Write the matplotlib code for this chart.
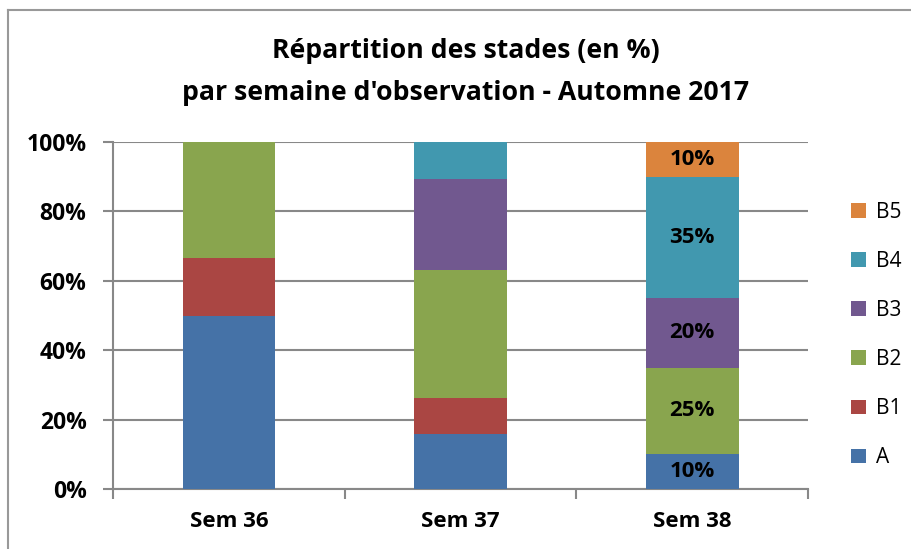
import matplotlib as mpl
mpl.use('Agg')
import numpy as np
import matplotlib.pyplot as plt
from matplotlib.lines import Line2D

# data (percent per stage, per week)
semaines = ['Sem 36', 'Sem 37', 'Sem 38']
stades = ['A', 'B1', 'B2', 'B3', 'B4', 'B5']
val_A  = [50.0, 15.8, 10.0]
val_B1 = [16.7, 10.5, 0.0]
val_B2 = [33.3, 36.8, 25.0]
val_B3 = [0.0, 26.3, 20.0]
val_B4 = [0.0, 10.5, 35.0]
val_B5 = [0.0, 0.0, 10.0]
couleurs = ['#4572A7', '#AA4643', '#89A54E', '#71588F', '#4198AF', '#DB843D']
etiquettes_sem38 = ['10%', '', '25%', '20%', '35%', '10%']

plt.rcParams['font.family'] = ['Open Sans', 'DejaVu Sans']

fig = plt.figure(figsize=(9.12, 5.49), dpi=100)
ax = fig.add_axes([113/912, 1-489/549, 695/912, 347/549])

x = np.arange(len(semaines))
series = [val_A, val_B1, val_B2, val_B3, val_B4, val_B5]
bas = np.zeros(len(semaines))
barres = []
for i, s in enumerate(series):
	s = np.array(s)
	b = ax.bar(x, s, width=0.40, bottom=bas, color=couleurs[i], label=stades[i], zorder=3)
	barres.append(b)
	# labels only on the last week
	if etiquettes_sem38[i]:
		ax.text(x[2], bas[2] + s[2]/2, etiquettes_sem38[i], ha='center', va='center',
				fontsize=16, fontweight='bold', color='black', zorder=4)
	bas = bas + s

ax.set_xlim(-0.5, 2.5)
ax.set_ylim(0, 100)
ax.set_yticks([0, 20, 40, 60, 80, 100])
ax.set_yticklabels(['0%', '20%', '40%', '60%', '80%', '100%'], fontsize=16.5, fontweight='bold')
ax.set_xticks(x)
ax.set_xticklabels(semaines, fontsize=16, fontweight='bold')
ax.tick_params(axis='x', length=0, pad=16)
ax.tick_params(axis='y', length=7, width=1.5, color='#888888', pad=12, direction='out')
ax.set_xticks([-0.5, 0.5, 1.5, 2.5], minor=True)
ax.tick_params(axis='x', which='minor', length=7, width=1.5, color='#888888', direction='out')
ax.grid(axis='y', color='#888888', linewidth=1.5, zorder=0)
for sp in ['top', 'right']:
	ax.spines[sp].set_visible(False)
ax.spines['left'].set_color('#888888')
ax.spines['left'].set_linewidth(1.5)
ax.spines['bottom'].set_color('#888888')
ax.spines['bottom'].set_linewidth(1.5)

fig.text(466/912, 1-51/549, 'Répartition des stades (en %)', ha='center', va='center',
		 fontsize=19.2, fontweight='bold')
fig.text(466/912, 1-93/549, "par semaine d'observation - Automne 2017", ha='center', va='center',
		 fontsize=19.2, fontweight='bold')

leg = ax.legend(handles=barres[::-1], labels=stades[::-1], loc='center left',
				bbox_to_anchor=(1.035, 0.444), frameon=False, fontsize=15,
				handlelength=0.7, handleheight=0.7, labelspacing=1.35, handletextpad=0.5)

# chart area border
fig.add_artist(Line2D([8/912, 1], [1-10/549, 1-10/549], color='#999999', linewidth=1.5))
fig.add_artist(Line2D([8/912, 8/912], [0, 1-10/549], color='#999999', linewidth=1.5))

fig.savefig('out.png', dpi=100)
